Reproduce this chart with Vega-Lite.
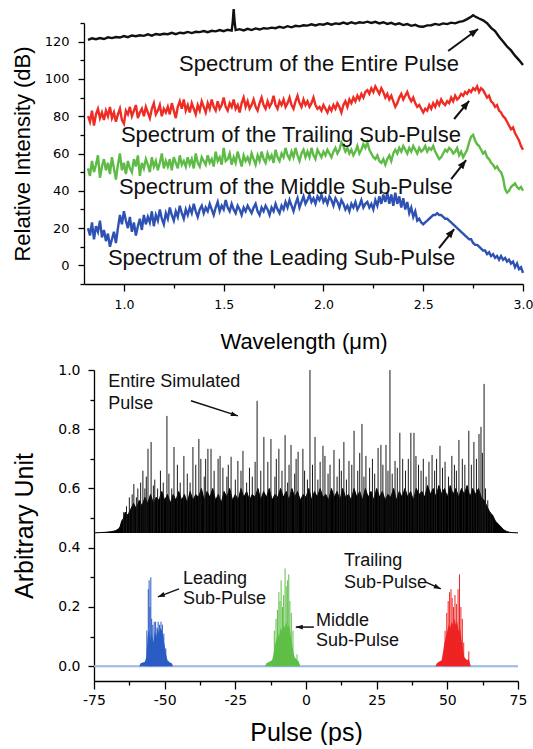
{
"$schema": "https://vega.github.io/schema/vega-lite/v6.json",
"background": "white",
"padding": {"left": 11, "top": 4, "right": 0, "bottom": 0},
"spacing": 10,
"config": {"view": {"stroke": null}, "axis": {"grid": false, "domainColor": "#000", "tickColor": "#000", "labelColor": "#000", "titleColor": "#000", "labelFont": "DejaVu Sans", "titleFont": "Liberation Sans", "titleFontWeight": "normal", "domainWidth": 1.3, "tickWidth": 1.3, "labelOverlap": false, "labelFlush": false, "tickCount": 200}},
"datasets": {
"black": [{"x":0.82,"y":121.0},{"x":0.84,"y":121.8},{"x":0.86,"y":121.3},{"x":0.88,"y":121.9},{"x":0.90,"y":121.4},{"x":0.92,"y":122.3},{"x":0.94,"y":121.9},{"x":0.96,"y":122.5},{"x":0.98,"y":122.2},{"x":1.00,"y":123.0},
{"x":1.02,"y":122.4},{"x":1.04,"y":123.3},{"x":1.06,"y":122.9},{"x":1.08,"y":123.4},{"x":1.10,"y":123.1},{"x":1.12,"y":123.9},{"x":1.14,"y":123.2},{"x":1.16,"y":124.1},{"x":1.18,"y":123.7},{"x":1.20,"y":124.2},
{"x":1.22,"y":124.0},{"x":1.24,"y":124.7},{"x":1.26,"y":124.0},{"x":1.28,"y":124.8},{"x":1.30,"y":124.5},{"x":1.32,"y":125.2},{"x":1.34,"y":124.6},{"x":1.36,"y":125.3},{"x":1.38,"y":125.1},{"x":1.40,"y":125.7},
{"x":1.42,"y":125.1},{"x":1.44,"y":125.8},{"x":1.46,"y":125.5},{"x":1.48,"y":126.2},{"x":1.50,"y":125.6},{"x":1.52,"y":126.4},{"x":1.54,"y":125.9},{"x":1.545,"y":130.0},{"x":1.55,"y":137.5},{"x":1.555,"y":130.5},{"x":1.56,"y":126.2},{"x":1.58,"y":126.7},{"x":1.60,"y":126.0},
{"x":1.62,"y":126.9},{"x":1.64,"y":126.2},{"x":1.66,"y":127.1},{"x":1.68,"y":126.5},{"x":1.70,"y":127.2},{"x":1.72,"y":127.0},{"x":1.74,"y":127.5},{"x":1.76,"y":127.2},{"x":1.78,"y":128.0},{"x":1.80,"y":127.4},
{"x":1.82,"y":128.3},{"x":1.84,"y":127.7},{"x":1.86,"y":128.5},{"x":1.88,"y":128.2},{"x":1.90,"y":128.8},{"x":1.92,"y":128.6},{"x":1.94,"y":129.3},{"x":1.96,"y":128.7},{"x":1.98,"y":129.4},{"x":2.00,"y":129.1},
{"x":2.02,"y":129.8},{"x":2.04,"y":129.1},{"x":2.06,"y":129.8},{"x":2.08,"y":129.5},{"x":2.10,"y":130.2},{"x":2.12,"y":129.5},{"x":2.14,"y":130.4},{"x":2.16,"y":129.7},{"x":2.18,"y":130.4},{"x":2.20,"y":130.1},
{"x":2.22,"y":130.7},{"x":2.24,"y":130.0},{"x":2.26,"y":130.6},{"x":2.28,"y":129.8},{"x":2.30,"y":130.4},{"x":2.32,"y":129.5},{"x":2.34,"y":130.1},{"x":2.36,"y":129.2},{"x":2.38,"y":129.8},{"x":2.40,"y":128.9},
{"x":2.42,"y":129.4},{"x":2.44,"y":128.5},{"x":2.46,"y":129.0},{"x":2.48,"y":128.1},{"x":2.50,"y":128.0},{"x":2.52,"y":128.7},{"x":2.54,"y":128.8},{"x":2.56,"y":129.5},{"x":2.58,"y":129.0},{"x":2.60,"y":129.8},
{"x":2.62,"y":129.4},{"x":2.64,"y":130.2},{"x":2.66,"y":129.8},{"x":2.68,"y":130.6},{"x":2.70,"y":131.0},{"x":2.72,"y":132.1},{"x":2.74,"y":133.4},{"x":2.75,"y":134.2},{"x":2.76,"y":133.5},{"x":2.78,"y":132.4},{"x":2.80,"y":131.4},
{"x":2.82,"y":129.9},{"x":2.84,"y":127.4},{"x":2.86,"y":125.7},{"x":2.88,"y":122.6},{"x":2.90,"y":120.1},{"x":2.92,"y":117.4},{"x":2.94,"y":115.3},{"x":2.96,"y":112.5},{"x":2.98,"y":110.1},{"x":3.00,"y":107.5}],
"red": [{"x":0.82,"y":80},{"x":0.83,"y":77},{"x":0.84,"y":83},{"x":0.85,"y":75},{"x":0.86,"y":81},{"x":0.87,"y":84},{"x":0.88,"y":79},{"x":0.89,"y":82},{"x":0.90,"y":78},{"x":0.91,"y":83},
{"x":0.92,"y":80},{"x":0.93,"y":85},{"x":0.94,"y":79},{"x":0.95,"y":82},{"x":0.96,"y":77},{"x":0.97,"y":81},{"x":0.98,"y":84},{"x":0.99,"y":78},{"x":1.00,"y":76},{"x":1.01,"y":83},
{"x":1.02,"y":81},{"x":1.03,"y":85},{"x":1.04,"y":80},{"x":1.05,"y":83},{"x":1.06,"y":86},{"x":1.07,"y":79},{"x":1.08,"y":82},{"x":1.09,"y":84},{"x":1.10,"y":80},{"x":1.11,"y":85},
{"x":1.12,"y":82},{"x":1.13,"y":79},{"x":1.14,"y":84},{"x":1.15,"y":87},{"x":1.16,"y":81},{"x":1.17,"y":83},{"x":1.18,"y":86},{"x":1.19,"y":80},{"x":1.20,"y":84},{"x":1.21,"y":82},
{"x":1.22,"y":85},{"x":1.23,"y":81},{"x":1.24,"y":87},{"x":1.25,"y":83},{"x":1.26,"y":79},{"x":1.27,"y":85},{"x":1.28,"y":88},{"x":1.29,"y":84},{"x":1.30,"y":89},{"x":1.31,"y":83},
{"x":1.32,"y":86},{"x":1.33,"y":82},{"x":1.34,"y":87},{"x":1.35,"y":84},{"x":1.36,"y":81},{"x":1.37,"y":86},{"x":1.38,"y":83},{"x":1.39,"y":88},{"x":1.40,"y":85},{"x":1.41,"y":82},
{"x":1.42,"y":87},{"x":1.43,"y":84},{"x":1.44,"y":89},{"x":1.45,"y":85},{"x":1.46,"y":83},{"x":1.47,"y":88},{"x":1.48,"y":84},{"x":1.49,"y":86},{"x":1.50,"y":90},{"x":1.51,"y":85},
{"x":1.52,"y":83},{"x":1.53,"y":87},{"x":1.54,"y":85},{"x":1.55,"y":89},{"x":1.56,"y":84},{"x":1.57,"y":86},{"x":1.58,"y":82},{"x":1.59,"y":87},{"x":1.60,"y":90},{"x":1.61,"y":85},
{"x":1.62,"y":88},{"x":1.63,"y":84},{"x":1.64,"y":86},{"x":1.65,"y":89},{"x":1.66,"y":85},{"x":1.67,"y":83},{"x":1.68,"y":87},{"x":1.69,"y":90},{"x":1.70,"y":86},{"x":1.71,"y":84},
{"x":1.72,"y":88},{"x":1.73,"y":85},{"x":1.74,"y":87},{"x":1.75,"y":91},{"x":1.76,"y":86},{"x":1.77,"y":84},{"x":1.78,"y":88},{"x":1.79,"y":86},{"x":1.80,"y":89},{"x":1.81,"y":85},
{"x":1.82,"y":87},{"x":1.83,"y":90},{"x":1.84,"y":86},{"x":1.85,"y":84},{"x":1.86,"y":88},{"x":1.87,"y":91},{"x":1.88,"y":87},{"x":1.89,"y":85},{"x":1.90,"y":89},{"x":1.91,"y":86},
{"x":1.92,"y":88},{"x":1.93,"y":85},{"x":1.94,"y":87},{"x":1.95,"y":90},{"x":1.96,"y":86},{"x":1.97,"y":84},{"x":1.98,"y":85},{"x":1.99,"y":83},{"x":2.00,"y":86},{"x":2.01,"y":84},
{"x":2.02,"y":82},{"x":2.03,"y":85},{"x":2.04,"y":83},{"x":2.05,"y":86},{"x":2.06,"y":84},{"x":2.07,"y":87},{"x":2.08,"y":85},{"x":2.09,"y":82},{"x":2.10,"y":86},{"x":2.11,"y":88},
{"x":2.12,"y":85},{"x":2.13,"y":89},{"x":2.14,"y":87},{"x":2.15,"y":90},{"x":2.16,"y":88},{"x":2.17,"y":91},{"x":2.18,"y":89},{"x":2.19,"y":92},{"x":2.20,"y":90},{"x":2.21,"y":93},
{"x":2.22,"y":94},{"x":2.23,"y":92},{"x":2.24,"y":95},{"x":2.25,"y":93},{"x":2.26,"y":96},{"x":2.27,"y":94},{"x":2.28,"y":92},{"x":2.29,"y":95},{"x":2.30,"y":93},{"x":2.31,"y":90},
{"x":2.32,"y":92},{"x":2.33,"y":89},{"x":2.34,"y":91},{"x":2.35,"y":88},{"x":2.36,"y":85},{"x":2.37,"y":87},{"x":2.38,"y":90},{"x":2.39,"y":92},{"x":2.40,"y":89},{"x":2.41,"y":91},
{"x":2.42,"y":93},{"x":2.43,"y":90},{"x":2.44,"y":88},{"x":2.45,"y":90},{"x":2.46,"y":87},{"x":2.47,"y":85},{"x":2.48,"y":86},{"x":2.49,"y":84},{"x":2.50,"y":82},{"x":2.51,"y":84},
{"x":2.52,"y":83},{"x":2.53,"y":86},{"x":2.54,"y":84},{"x":2.55,"y":87},{"x":2.56,"y":85},{"x":2.57,"y":88},{"x":2.58,"y":86},{"x":2.59,"y":89},{"x":2.60,"y":87},{"x":2.61,"y":86},
{"x":2.62,"y":88},{"x":2.63,"y":87},{"x":2.64,"y":90},{"x":2.65,"y":88},{"x":2.66,"y":91},{"x":2.67,"y":89},{"x":2.68,"y":90},{"x":2.69,"y":92},{"x":2.70,"y":91},{"x":2.71,"y":93},
{"x":2.72,"y":92},{"x":2.73,"y":94},{"x":2.74,"y":93},{"x":2.75,"y":95},{"x":2.76,"y":94},{"x":2.77,"y":96},{"x":2.78,"y":93},{"x":2.79,"y":95},{"x":2.80,"y":94},{"x":2.81,"y":92},
{"x":2.82,"y":90},{"x":2.83,"y":91},{"x":2.84,"y":88},{"x":2.85,"y":87},{"x":2.86,"y":85},{"x":2.87,"y":86},{"x":2.88,"y":83},{"x":2.89,"y":82},{"x":2.90,"y":80},{"x":2.91,"y":79},
{"x":2.92,"y":77},{"x":2.93,"y":75},{"x":2.94,"y":73},{"x":2.95,"y":74},{"x":2.96,"y":71},{"x":2.97,"y":69},{"x":2.98,"y":67},{"x":2.99,"y":64},{"x":3.00,"y":62}],
"green": [{"x":0.82,"y":52},{"x":0.83,"y":48},{"x":0.84,"y":56},{"x":0.85,"y":50},{"x":0.86,"y":54},{"x":0.87,"y":59},{"x":0.88,"y":47},{"x":0.89,"y":53},{"x":0.90,"y":57},{"x":0.91,"y":51},
{"x":0.92,"y":55},{"x":0.93,"y":49},{"x":0.94,"y":58},{"x":0.95,"y":52},{"x":0.96,"y":46},{"x":0.97,"y":54},{"x":0.98,"y":60},{"x":0.99,"y":51},{"x":1.00,"y":55},{"x":1.01,"y":49},
{"x":1.02,"y":56},{"x":1.03,"y":52},{"x":1.04,"y":50},{"x":1.05,"y":57},{"x":1.06,"y":53},{"x":1.07,"y":59},{"x":1.08,"y":48},{"x":1.09,"y":55},{"x":1.10,"y":52},{"x":1.11,"y":57},
{"x":1.12,"y":54},{"x":1.13,"y":50},{"x":1.14,"y":58},{"x":1.15,"y":53},{"x":1.16,"y":56},{"x":1.17,"y":51},{"x":1.18,"y":55},{"x":1.19,"y":60},{"x":1.20,"y":52},{"x":1.21,"y":56},
{"x":1.22,"y":53},{"x":1.23,"y":57},{"x":1.24,"y":51},{"x":1.25,"y":58},{"x":1.26,"y":55},{"x":1.27,"y":52},{"x":1.28,"y":59},{"x":1.29,"y":54},{"x":1.30,"y":56},{"x":1.31,"y":53},
{"x":1.32,"y":58},{"x":1.33,"y":54},{"x":1.34,"y":57},{"x":1.35,"y":52},{"x":1.36,"y":60},{"x":1.37,"y":55},{"x":1.38,"y":53},{"x":1.39,"y":58},{"x":1.40,"y":56},{"x":1.41,"y":54},
{"x":1.42,"y":59},{"x":1.43,"y":55},{"x":1.44,"y":57},{"x":1.45,"y":53},{"x":1.46,"y":61},{"x":1.47,"y":56},{"x":1.48,"y":58},{"x":1.49,"y":54},{"x":1.50,"y":63},{"x":1.51,"y":56},
{"x":1.52,"y":57},{"x":1.53,"y":60},{"x":1.54,"y":54},{"x":1.55,"y":58},{"x":1.56,"y":55},{"x":1.57,"y":61},{"x":1.58,"y":57},{"x":1.59,"y":53},{"x":1.60,"y":59},{"x":1.61,"y":56},
{"x":1.62,"y":58},{"x":1.63,"y":55},{"x":1.64,"y":60},{"x":1.65,"y":57},{"x":1.66,"y":54},{"x":1.67,"y":59},{"x":1.68,"y":56},{"x":1.69,"y":61},{"x":1.70,"y":57},{"x":1.71,"y":55},
{"x":1.72,"y":60},{"x":1.73,"y":57},{"x":1.74,"y":59},{"x":1.75,"y":55},{"x":1.76,"y":62},{"x":1.77,"y":58},{"x":1.78,"y":56},{"x":1.79,"y":60},{"x":1.80,"y":58},{"x":1.81,"y":63},
{"x":1.82,"y":59},{"x":1.83,"y":57},{"x":1.84,"y":61},{"x":1.85,"y":58},{"x":1.86,"y":63},{"x":1.87,"y":59},{"x":1.88,"y":56},{"x":1.89,"y":60},{"x":1.90,"y":62},{"x":1.91,"y":58},
{"x":1.92,"y":61},{"x":1.93,"y":58},{"x":1.94,"y":63},{"x":1.95,"y":59},{"x":1.96,"y":57},{"x":1.97,"y":62},{"x":1.98,"y":60},{"x":1.99,"y":58},{"x":2.00,"y":61},{"x":2.01,"y":59},
{"x":2.02,"y":62},{"x":2.03,"y":60},{"x":2.04,"y":58},{"x":2.05,"y":61},{"x":2.06,"y":63},{"x":2.07,"y":60},{"x":2.08,"y":62},{"x":2.09,"y":66},{"x":2.10,"y":64},{"x":2.11,"y":61},
{"x":2.12,"y":63},{"x":2.13,"y":60},{"x":2.14,"y":62},{"x":2.15,"y":59},{"x":2.16,"y":61},{"x":2.17,"y":64},{"x":2.18,"y":60},{"x":2.19,"y":62},{"x":2.20,"y":65},{"x":2.21,"y":63},
{"x":2.22,"y":66},{"x":2.23,"y":62},{"x":2.24,"y":60},{"x":2.25,"y":58},{"x":2.26,"y":57},{"x":2.27,"y":59},{"x":2.28,"y":56},{"x":2.29,"y":55},{"x":2.30,"y":57},{"x":2.31,"y":54},
{"x":2.32,"y":57},{"x":2.33,"y":59},{"x":2.34,"y":56},{"x":2.35,"y":60},{"x":2.36,"y":62},{"x":2.37,"y":60},{"x":2.38,"y":63},{"x":2.39,"y":61},{"x":2.40,"y":64},{"x":2.41,"y":62},
{"x":2.42,"y":60},{"x":2.43,"y":63},{"x":2.44,"y":61},{"x":2.45,"y":64},{"x":2.46,"y":62},{"x":2.47,"y":60},{"x":2.48,"y":63},{"x":2.49,"y":61},{"x":2.50,"y":62},{"x":2.51,"y":64},
{"x":2.52,"y":61},{"x":2.53,"y":63},{"x":2.54,"y":62},{"x":2.55,"y":64},{"x":2.56,"y":61},{"x":2.57,"y":59},{"x":2.58,"y":57},{"x":2.59,"y":58},{"x":2.60,"y":60},{"x":2.61,"y":62},
{"x":2.62,"y":61},{"x":2.63,"y":63},{"x":2.64,"y":62},{"x":2.65,"y":60},{"x":2.66,"y":61},{"x":2.67,"y":63},{"x":2.68,"y":59},{"x":2.69,"y":61},{"x":2.70,"y":58},{"x":2.71,"y":60},
{"x":2.72,"y":62},{"x":2.73,"y":66},{"x":2.74,"y":69},{"x":2.75,"y":70},{"x":2.76,"y":67},{"x":2.77,"y":65},{"x":2.78,"y":64},{"x":2.79,"y":62},{"x":2.80,"y":60},{"x":2.81,"y":61},
{"x":2.82,"y":58},{"x":2.83,"y":57},{"x":2.84,"y":55},{"x":2.85,"y":54},{"x":2.86,"y":52},{"x":2.87,"y":53},{"x":2.88,"y":51},{"x":2.89,"y":50},{"x":2.90,"y":47},{"x":2.91,"y":41},
{"x":2.92,"y":39},{"x":2.93,"y":40},{"x":2.94,"y":42},{"x":2.95,"y":43},{"x":2.96,"y":44},{"x":2.97,"y":42},{"x":2.98,"y":41},{"x":2.99,"y":42},{"x":3.00,"y":40}],
"blue": [{"x":0.82,"y":20},{"x":0.83,"y":16},{"x":0.84,"y":23},{"x":0.85,"y":14},{"x":0.86,"y":21},{"x":0.87,"y":18},{"x":0.88,"y":24},{"x":0.89,"y":15},{"x":0.90,"y":19},{"x":0.91,"y":13},
{"x":0.92,"y":17},{"x":0.93,"y":10},{"x":0.94,"y":14},{"x":0.95,"y":18},{"x":0.96,"y":12},{"x":0.97,"y":20},{"x":0.98,"y":27},{"x":0.99,"y":22},{"x":1.00,"y":29},{"x":1.01,"y":24},
{"x":1.02,"y":20},{"x":1.03,"y":26},{"x":1.04,"y":18},{"x":1.05,"y":23},{"x":1.06,"y":16},{"x":1.07,"y":21},{"x":1.08,"y":25},{"x":1.09,"y":19},{"x":1.10,"y":27},{"x":1.11,"y":22},
{"x":1.12,"y":26},{"x":1.13,"y":23},{"x":1.14,"y":29},{"x":1.15,"y":21},{"x":1.16,"y":27},{"x":1.17,"y":24},{"x":1.18,"y":30},{"x":1.19,"y":25},{"x":1.20,"y":22},{"x":1.21,"y":28},
{"x":1.22,"y":25},{"x":1.23,"y":31},{"x":1.24,"y":27},{"x":1.25,"y":24},{"x":1.26,"y":29},{"x":1.27,"y":26},{"x":1.28,"y":32},{"x":1.29,"y":28},{"x":1.30,"y":25},{"x":1.31,"y":30},
{"x":1.32,"y":27},{"x":1.33,"y":31},{"x":1.34,"y":28},{"x":1.35,"y":33},{"x":1.36,"y":29},{"x":1.37,"y":26},{"x":1.38,"y":30},{"x":1.39,"y":32},{"x":1.40,"y":28},{"x":1.41,"y":31},
{"x":1.42,"y":29},{"x":1.43,"y":33},{"x":1.44,"y":30},{"x":1.45,"y":27},{"x":1.46,"y":31},{"x":1.47,"y":34},{"x":1.48,"y":29},{"x":1.49,"y":32},{"x":1.50,"y":30},{"x":1.51,"y":35},
{"x":1.52,"y":31},{"x":1.53,"y":29},{"x":1.54,"y":33},{"x":1.55,"y":30},{"x":1.56,"y":28},{"x":1.57,"y":32},{"x":1.58,"y":30},{"x":1.59,"y":27},{"x":1.60,"y":31},{"x":1.61,"y":29},
{"x":1.62,"y":32},{"x":1.63,"y":30},{"x":1.64,"y":28},{"x":1.65,"y":31},{"x":1.66,"y":33},{"x":1.67,"y":29},{"x":1.68,"y":27},{"x":1.69,"y":31},{"x":1.70,"y":29},{"x":1.71,"y":32},
{"x":1.72,"y":30},{"x":1.73,"y":27},{"x":1.74,"y":31},{"x":1.75,"y":29},{"x":1.76,"y":33},{"x":1.77,"y":30},{"x":1.78,"y":28},{"x":1.79,"y":32},{"x":1.80,"y":30},{"x":1.81,"y":34},
{"x":1.82,"y":31},{"x":1.83,"y":35},{"x":1.84,"y":32},{"x":1.85,"y":29},{"x":1.86,"y":33},{"x":1.87,"y":36},{"x":1.88,"y":31},{"x":1.89,"y":34},{"x":1.90,"y":37},{"x":1.91,"y":33},
{"x":1.92,"y":35},{"x":1.93,"y":38},{"x":1.94,"y":34},{"x":1.95,"y":36},{"x":1.96,"y":33},{"x":1.97,"y":37},{"x":1.98,"y":35},{"x":1.99,"y":38},{"x":2.00,"y":34},{"x":2.01,"y":36},
{"x":2.02,"y":33},{"x":2.03,"y":37},{"x":2.04,"y":35},{"x":2.05,"y":32},{"x":2.06,"y":36},{"x":2.07,"y":34},{"x":2.08,"y":31},{"x":2.09,"y":35},{"x":2.10,"y":33},{"x":2.11,"y":30},
{"x":2.12,"y":32},{"x":2.13,"y":29},{"x":2.14,"y":33},{"x":2.15,"y":31},{"x":2.16,"y":34},{"x":2.17,"y":30},{"x":2.18,"y":32},{"x":2.19,"y":35},{"x":2.20,"y":31},{"x":2.21,"y":33},
{"x":2.22,"y":34},{"x":2.23,"y":31},{"x":2.24,"y":33},{"x":2.25,"y":30},{"x":2.26,"y":35},{"x":2.27,"y":32},{"x":2.28,"y":37},{"x":2.29,"y":33},{"x":2.30,"y":38},{"x":2.31,"y":34},
{"x":2.32,"y":39},{"x":2.33,"y":33},{"x":2.34,"y":38},{"x":2.35,"y":32},{"x":2.36,"y":39},{"x":2.37,"y":33},{"x":2.38,"y":37},{"x":2.39,"y":31},{"x":2.40,"y":36},{"x":2.41,"y":30},
{"x":2.42,"y":34},{"x":2.43,"y":28},{"x":2.44,"y":31},{"x":2.45,"y":26},{"x":2.46,"y":29},{"x":2.47,"y":24},{"x":2.48,"y":25},{"x":2.49,"y":23},{"x":2.50,"y":22},{"x":2.51,"y":23},
{"x":2.52,"y":24},{"x":2.53,"y":25},{"x":2.54,"y":26},{"x":2.55,"y":27},{"x":2.56,"y":27},{"x":2.57,"y":28},{"x":2.58,"y":27},{"x":2.59,"y":27},{"x":2.60,"y":26},{"x":2.61,"y":25},
{"x":2.62,"y":25},{"x":2.63,"y":24},{"x":2.64,"y":23},{"x":2.65,"y":22},{"x":2.66,"y":21},{"x":2.67,"y":20},{"x":2.68,"y":19},{"x":2.69,"y":18},{"x":2.70,"y":17},{"x":2.71,"y":16},
{"x":2.72,"y":15},{"x":2.73,"y":14},{"x":2.74,"y":14},{"x":2.75,"y":12},{"x":2.76,"y":11},{"x":2.77,"y":11},{"x":2.78,"y":10},{"x":2.79,"y":9},{"x":2.80,"y":8},{"x":2.81,"y":8},
{"x":2.82,"y":6},{"x":2.83,"y":7},{"x":2.84,"y":5},{"x":2.85,"y":6},{"x":2.86,"y":4},{"x":2.87,"y":5},{"x":2.88,"y":3},{"x":2.89,"y":5},{"x":2.90,"y":3},{"x":2.91,"y":4},
{"x":2.92,"y":2},{"x":2.93,"y":3},{"x":2.94,"y":1},{"x":2.95,"y":2},{"x":2.96,"y":-1},{"x":2.97,"y":1},{"x":2.98,"y":-2},{"x":2.99,"y":-1},{"x":3.00,"y":-4}],
"topText": [{"x":1.276,"y":104.2,"t":"Spectrum of the Entire Pulse"},{"x":0.985,"y":66.2,"t":"Spectrum of the Trailing Sub-Pulse"},{"x":0.975,"y":38.3,"t":"Spectrum of the Middle Sub-Pulse"},{"x":0.92,"y":0.2,"t":"Spectrum of the Leading Sub-Pulse"}],
"topArrows": [{"id":"E","x":2.625,"y":115.0,"x2":2.775,"y2":126.8},{"id":"T","x":2.655,"y":78.5,"x2":2.730,"y2":88.2},{"id":"M","x":2.640,"y":46.3,"x2":2.715,"y2":56.5},{"id":"L","x":2.579,"y":9.3,"x2":2.655,"y2":19.5}],
"baseline": [{"x":-75,"y":0},{"x":75,"y":0}],
"env": [{"x":-75,"y":0.450},{"x":-73,"y":0.451},{"x":-71,"y":0.452},{"x":-69,"y":0.454},{"x":-67.5,"y":0.457},{"x":-66.5,"y":0.462},{"x":-65.8,"y":0.47},{"x":-65.2,"y":0.49},{"x":-64.5,"y":0.50},{"x":-64,"y":0.52},{"x":-63,"y":0.51},{"x":-62,"y":0.53},{"x":-61,"y":0.55},{"x":-60,"y":0.53},{"x":-59,"y":0.56},{"x":-58,"y":0.54},{"x":-57,"y":0.57},{"x":-56,"y":0.55},{"x":-55,"y":0.58},{"x":-54,"y":0.55},{"x":-53,"y":0.57},{"x":-52,"y":0.56},{"x":-51,"y":0.59},{"x":-50,"y":0.56},{"x":-49,"y":0.58},{"x":-48,"y":0.55},{"x":-47,"y":0.58},{"x":-46,"y":0.56},{"x":-45,"y":0.59},{"x":-44,"y":0.56},{"x":-43,"y":0.58},{"x":-42,"y":0.55},{"x":-41,"y":0.59},{"x":-40,"y":0.56},{"x":-39,"y":0.58},{"x":-38,"y":0.57},{"x":-37,"y":0.6},{"x":-36,"y":0.56},{"x":-35,"y":0.59},{"x":-34,"y":0.57},{"x":-33,"y":0.6},{"x":-32,"y":0.56},{"x":-31,"y":0.58},{"x":-30,"y":0.55},{"x":-29,"y":0.59},{"x":-28,"y":0.57},{"x":-27,"y":0.6},{"x":-26,"y":0.56},{"x":-25,"y":0.58},{"x":-24,"y":0.56},{"x":-23,"y":0.6},{"x":-22,"y":0.57},{"x":-21,"y":0.59},{"x":-20,"y":0.56},{"x":-19,"y":0.58},{"x":-18,"y":0.57},{"x":-17,"y":0.6},{"x":-16,"y":0.56},{"x":-15,"y":0.59},{"x":-14,"y":0.57},{"x":-13,"y":0.6},{"x":-12,"y":0.56},{"x":-11,"y":0.58},{"x":-10,"y":0.57},{"x":-9,"y":0.6},{"x":-8,"y":0.57},{"x":-7,"y":0.59},{"x":-6,"y":0.56},{"x":-5,"y":0.6},{"x":-4,"y":0.57},{"x":-3,"y":0.59},{"x":-2,"y":0.56},{"x":-1,"y":0.58},{"x":0,"y":0.57},{"x":1,"y":0.6},{"x":2,"y":0.56},{"x":3,"y":0.59},{"x":4,"y":0.57},{"x":5,"y":0.6},{"x":6,"y":0.57},{"x":7,"y":0.58},{"x":8,"y":0.56},{"x":9,"y":0.6},{"x":10,"y":0.57},{"x":11,"y":0.59},{"x":12,"y":0.56},{"x":13,"y":0.6},{"x":14,"y":0.57},{"x":15,"y":0.58},{"x":16,"y":0.56},{"x":17,"y":0.6},{"x":18,"y":0.57},{"x":19,"y":0.59},{"x":20,"y":0.56},{"x":21,"y":0.6},{"x":22,"y":0.57},{"x":23,"y":0.59},{"x":24,"y":0.56},{"x":25,"y":0.6},{"x":26,"y":0.57},{"x":27,"y":0.59},{"x":28,"y":0.56},{"x":29,"y":0.58},{"x":30,"y":0.57},{"x":31,"y":0.6},{"x":32,"y":0.56},{"x":33,"y":0.59},{"x":34,"y":0.57},{"x":35,"y":0.6},{"x":36,"y":0.57},{"x":37,"y":0.59},{"x":38,"y":0.56},{"x":39,"y":0.6},{"x":40,"y":0.58},{"x":41,"y":0.59},{"x":42,"y":0.57},{"x":43,"y":0.61},{"x":44,"y":0.58},{"x":45,"y":0.6},{"x":46,"y":0.57},{"x":47,"y":0.61},{"x":48,"y":0.58},{"x":49,"y":0.6},{"x":50,"y":0.57},{"x":51,"y":0.61},{"x":52,"y":0.58},{"x":53,"y":0.6},{"x":54,"y":0.57},{"x":55,"y":0.6},{"x":56,"y":0.58},{"x":57,"y":0.61},{"x":58,"y":0.57},{"x":59,"y":0.6},{"x":60,"y":0.58},{"x":61,"y":0.6},{"x":62,"y":0.57},{"x":63,"y":0.56},{"x":64,"y":0.54},{"x":65,"y":0.52},{"x":66,"y":0.51},{"x":67,"y":0.49},{"x":68,"y":0.48},{"x":69,"y":0.47},{"x":70,"y":0.46},{"x":71,"y":0.455},{"x":72,"y":0.452},{"x":73,"y":0.451},{"x":75,"y":0.450}],
"spikes": [{"x":-64.5,"y":0.52},{"x":-63.5,"y":0.54},{"x":-62.5,"y":0.57},{"x":-61.5,"y":0.58},{"x":-60.9,"y":0.615},{"x":-60.0,"y":0.57},{"x":-59.5,"y":0.6},{"x":-58.5,"y":0.62},{"x":-57.7,"y":0.66},{"x":-57.0,"y":0.6},{"x":-56.5,"y":0.64},{"x":-55.9,"y":0.734},{"x":-54.8,"y":0.757},{"x":-54.0,"y":0.61},{"x":-53.5,"y":0.63},{"x":-52.5,"y":0.6},{"x":-51.5,"y":0.66},{"x":-50.5,"y":0.62},{"x":-49.2,"y":0.845},{"x":-48.5,"y":0.65},{"x":-47.5,"y":0.6},{"x":-46.7,"y":0.74},{"x":-45.5,"y":0.68},{"x":-44.5,"y":0.62},{"x":-43.2,"y":0.71},{"x":-42.0,"y":0.65},{"x":-41.0,"y":0.62},{"x":-40.0,"y":0.74},{"x":-39.0,"y":0.68},{"x":-37.9,"y":0.767},{"x":-37.2,"y":0.70},{"x":-36.0,"y":0.64},{"x":-35.5,"y":0.7},{"x":-34.7,"y":0.734},{"x":-33.6,"y":0.734},{"x":-32.5,"y":0.66},{"x":-31.1,"y":0.70},{"x":-30.4,"y":0.71},{"x":-29.4,"y":0.67},{"x":-28.0,"y":0.64},{"x":-27.5,"y":0.68},{"x":-26.5,"y":0.707},{"x":-25.0,"y":0.63},{"x":-24.1,"y":0.693},{"x":-23.0,"y":0.66},{"x":-22.3,"y":0.727},{"x":-21.0,"y":0.62},{"x":-20.0,"y":0.67},{"x":-19.0,"y":0.64},{"x":-18.0,"y":0.69},{"x":-17.3,"y":0.896},{"x":-16.0,"y":0.66},{"x":-14.9,"y":0.774},{"x":-13.5,"y":0.69},{"x":-12.4,"y":0.767},{"x":-11.0,"y":0.64},{"x":-10.5,"y":0.7},{"x":-9.6,"y":0.734},{"x":-8.5,"y":0.66},{"x":-7.4,"y":0.78},{"x":-6.5,"y":0.62},{"x":-6.0,"y":0.68},{"x":-5.3,"y":0.747},{"x":-4.0,"y":0.65},{"x":-3.5,"y":0.7},{"x":-2.8,"y":0.724},{"x":-1.1,"y":0.734},{"x":-0.5,"y":0.66},{"x":0.5,"y":0.63},{"x":1.4,"y":1.0},{"x":2.3,"y":0.68},{"x":3.2,"y":0.774},{"x":4.2,"y":0.63},{"x":5.0,"y":0.69},{"x":6.0,"y":0.744},{"x":6.7,"y":0.71},{"x":7.8,"y":0.65},{"x":8.5,"y":0.68},{"x":9.9,"y":0.73},{"x":11.0,"y":0.64},{"x":11.8,"y":0.7},{"x":12.5,"y":0.66},{"x":13.4,"y":0.757},{"x":14.3,"y":0.63},{"x":15.2,"y":0.693},{"x":16.2,"y":0.68},{"x":17.0,"y":0.795},{"x":18.3,"y":0.66},{"x":19.0,"y":0.72},{"x":19.8,"y":0.818},{"x":20.5,"y":0.64},{"x":21.2,"y":0.71},{"x":22.5,"y":0.67},{"x":23.5,"y":0.7},{"x":24.3,"y":0.65},{"x":25.5,"y":0.737},{"x":26.5,"y":0.747},{"x":27.2,"y":0.68},{"x":28.3,"y":0.747},{"x":29.0,"y":0.66},{"x":29.7,"y":1.0},{"x":30.5,"y":0.65},{"x":31.5,"y":0.693},{"x":32.3,"y":0.67},{"x":33.2,"y":0.788},{"x":34.2,"y":0.7},{"x":35.2,"y":0.66},{"x":36.2,"y":0.7},{"x":37.1,"y":0.788},{"x":38.2,"y":0.788},{"x":38.9,"y":0.71},{"x":39.8,"y":0.68},{"x":40.7,"y":0.66},{"x":41.5,"y":0.7},{"x":42.5,"y":0.64},{"x":43.5,"y":0.69},{"x":44.6,"y":0.713},{"x":45.5,"y":0.66},{"x":46.2,"y":0.7},{"x":47.4,"y":0.744},{"x":48.3,"y":0.67},{"x":49.2,"y":0.69},{"x":50.4,"y":0.64},{"x":51.6,"y":0.71},{"x":52.5,"y":0.68},{"x":53.2,"y":0.66},{"x":54.1,"y":0.764},{"x":55.3,"y":0.7},{"x":56.2,"y":0.68},{"x":57.6,"y":0.795},{"x":58.5,"y":0.68},{"x":59.4,"y":0.757},{"x":60.3,"y":0.7},{"x":61.2,"y":0.784},{"x":61.9,"y":0.808},{"x":62.4,"y":0.72},{"x":63.0,"y":0.953},{"x":63.5,"y":0.6},{"x":64.3,"y":0.56},{"x":65.2,"y":0.52},{"x":66.0,"y":0.5}],
"subEnv": [{"s":"L","x":-59,"y":0},{"s":"L","x":-58.5,"y":0.01},{"s":"L","x":-58,"y":0.012},{"s":"L","x":-57,"y":0.015},{"s":"L","x":-56.5,"y":0.03},{"s":"L","x":-56.2,"y":0.07},{"s":"L","x":-56,"y":0.10},{"s":"L","x":-55.5,"y":0.12},{"s":"L","x":-55,"y":0.09},{"s":"L","x":-54.5,"y":0.11},{"s":"L","x":-54,"y":0.08},{"s":"L","x":-53.5,"y":0.12},{"s":"L","x":-53,"y":0.10},{"s":"L","x":-52.5,"y":0.13},{"s":"L","x":-52,"y":0.11},{"s":"L","x":-51.5,"y":0.13},{"s":"L","x":-51,"y":0.12},{"s":"L","x":-50.5,"y":0.10},{"s":"L","x":-50,"y":0.07},{"s":"L","x":-49.5,"y":0.04},{"s":"L","x":-49,"y":0.02},{"s":"L","x":-48,"y":0.012},{"s":"L","x":-47.5,"y":0.01},{"s":"L","x":-47,"y":0},
{"s":"M","x":-14.5,"y":0},{"s":"M","x":-14,"y":0.01},{"s":"M","x":-13,"y":0.015},{"s":"M","x":-12,"y":0.02},{"s":"M","x":-11.5,"y":0.04},{"s":"M","x":-11,"y":0.07},{"s":"M","x":-10.5,"y":0.09},{"s":"M","x":-10,"y":0.11},{"s":"M","x":-9.5,"y":0.10},{"s":"M","x":-9,"y":0.13},{"s":"M","x":-8.5,"y":0.12},{"s":"M","x":-8,"y":0.14},{"s":"M","x":-7.5,"y":0.13},{"s":"M","x":-7,"y":0.15},{"s":"M","x":-6.5,"y":0.13},{"s":"M","x":-6,"y":0.14},{"s":"M","x":-5.5,"y":0.11},{"s":"M","x":-5,"y":0.08},{"s":"M","x":-4.5,"y":0.05},{"s":"M","x":-4,"y":0.03},{"s":"M","x":-3,"y":0.02},{"s":"M","x":-2.5,"y":0.015},{"s":"M","x":-2,"y":0},
{"s":"T","x":45.8,"y":0},{"s":"T","x":46.3,"y":0.01},{"s":"T","x":47,"y":0.015},{"s":"T","x":48,"y":0.02},{"s":"T","x":48.5,"y":0.05},{"s":"T","x":49,"y":0.08},{"s":"T","x":49.5,"y":0.10},{"s":"T","x":50,"y":0.12},{"s":"T","x":50.5,"y":0.14},{"s":"T","x":51,"y":0.13},{"s":"T","x":51.5,"y":0.15},{"s":"T","x":52,"y":0.14},{"s":"T","x":52.5,"y":0.16},{"s":"T","x":53,"y":0.14},{"s":"T","x":53.5,"y":0.15},{"s":"T","x":54,"y":0.12},{"s":"T","x":54.5,"y":0.13},{"s":"T","x":55,"y":0.09},{"s":"T","x":55.5,"y":0.06},{"s":"T","x":56,"y":0.03},{"s":"T","x":57,"y":0.02},{"s":"T","x":57.5,"y":0.025},{"s":"T","x":58,"y":0.01},{"s":"T","x":58.3,"y":0}],
"subSpikes": [{"s":"L","x":-56.3,"y":0.12},{"s":"L","x":-55.8,"y":0.26},{"s":"L","x":-55.5,"y":0.29},{"s":"L","x":-55.2,"y":0.20},{"s":"L","x":-54.9,"y":0.30},{"s":"L","x":-54.6,"y":0.16},{"s":"L","x":-54.2,"y":0.14},{"s":"L","x":-53.7,"y":0.15},{"s":"L","x":-53.2,"y":0.15},{"s":"L","x":-52.7,"y":0.13},{"s":"L","x":-52.3,"y":0.15},{"s":"L","x":-51.8,"y":0.14},{"s":"L","x":-51.3,"y":0.15},{"s":"L","x":-50.8,"y":0.14},{"s":"L","x":-50.3,"y":0.11},{"s":"L","x":-49.6,"y":0.06},
{"s":"M","x":-11.2,"y":0.12},{"s":"M","x":-10.6,"y":0.16},{"s":"M","x":-10.1,"y":0.19},{"s":"M","x":-9.6,"y":0.25},{"s":"M","x":-9.2,"y":0.22},{"s":"M","x":-8.8,"y":0.29},{"s":"M","x":-8.3,"y":0.2},{"s":"M","x":-7.9,"y":0.24},{"s":"M","x":-7.4,"y":0.33},{"s":"M","x":-7.0,"y":0.27},{"s":"M","x":-6.5,"y":0.29},{"s":"M","x":-6.1,"y":0.31},{"s":"M","x":-5.7,"y":0.22},{"s":"M","x":-5.2,"y":0.18},{"s":"M","x":-4.6,"y":0.12},{"s":"M","x":-3.2,"y":0.04},
{"s":"T","x":49.2,"y":0.12},{"s":"T","x":49.8,"y":0.18},{"s":"T","x":50.3,"y":0.22},{"s":"T","x":50.8,"y":0.25},{"s":"T","x":51.3,"y":0.26},{"s":"T","x":51.7,"y":0.23},{"s":"T","x":52.2,"y":0.2},{"s":"T","x":52.7,"y":0.24},{"s":"T","x":53.2,"y":0.21},{"s":"T","x":53.8,"y":0.26},{"s":"T","x":54.3,"y":0.31},{"s":"T","x":54.8,"y":0.2},{"s":"T","x":55.3,"y":0.16},{"s":"T","x":55.8,"y":0.08},{"s":"T","x":57.6,"y":0.05}],
"botText": [{"x":-70.0,"y":0.943,"t":"Entire Simulated"},{"x":-70.0,"y":0.869,"t":"Pulse"},{"x":-43.5,"y":0.278,"t":"Leading"},{"x":-43.5,"y":0.210,"t":"Sub-Pulse"},{"x":3.5,"y":0.136,"t":"Middle"},{"x":3.5,"y":0.068,"t":"Sub-Pulse"},{"x":13.4,"y":0.338,"t":"Trailing"},{"x":13.4,"y":0.264,"t":"Sub-Pulse"}],
"botArrows": [{"id":"E","x":-40.7,"y":0.896,"x2":-24.1,"y2":0.845},{"id":"L","x":-44.9,"y":0.261,"x2":-52.4,"y2":0.234},{"id":"M","x":2.8,"y":0.132,"x2":-3.6,"y2":0.132},{"id":"T","x":42.4,"y":0.284,"x2":47.7,"y2":0.261}]
},
"vconcat": [
{
"width": 439, "height": 261,
"layer": [
{"data": {"name": "black"}, "mark": {"type": "line", "color": "#111111", "strokeWidth": 2.4},
 "encoding": {
  "x": {"field": "x", "type": "quantitative", "scale": {"domain": [0.8, 3.0], "nice": false, "zero": false},
   "axis": {"values": [1.0,1.25,1.5,1.75,2.0,2.25,2.5,2.75,3.0], "tickCount": 200, "labelExpr": "(datum.value*2) % 1 == 0 ? format(datum.value, '.1f') : ''", "tickSize": {"condition": {"test": "(datum.value*2) % 1 != 0", "value": 4}, "value": 7}, "labelPadding": 7, "labelFontSize": 12.5, "title": "Wavelength (μm)", "titleFontSize": 22, "titlePadding": 21}},
  "y": {"field": "y", "type": "quantitative", "scale": {"domain": [-10, 130], "nice": false, "zero": false},
   "axis": {"values": [-10,0,10,20,30,40,50,60,70,80,90,100,110,120,130], "tickCount": 200, "labelExpr": "datum.value % 20 == 0 ? '' + datum.value : ''", "tickSize": {"condition": {"test": "datum.value % 20 != 0", "value": 4}, "value": 6}, "labelPadding": 9, "labelFontSize": 13, "title": "Relative Intensity (dB)", "titleFontSize": 22, "titlePadding": 10}}
 }},
{"data": {"name": "red"}, "mark": {"type": "line", "color": "#ee2c24", "strokeWidth": 2.4}, "encoding": {"x": {"field": "x", "type": "quantitative"}, "y": {"field": "y", "type": "quantitative"}}},
{"data": {"name": "green"}, "mark": {"type": "line", "color": "#5dbb46", "strokeWidth": 2.4}, "encoding": {"x": {"field": "x", "type": "quantitative"}, "y": {"field": "y", "type": "quantitative"}}},
{"data": {"name": "blue"}, "mark": {"type": "line", "color": "#2e52b4", "strokeWidth": 2.4}, "encoding": {"x": {"field": "x", "type": "quantitative"}, "y": {"field": "y", "type": "quantitative"}}},
{"data": {"name": "topText"}, "mark": {"type": "text", "align": "left", "baseline": "alphabetic", "font": "Liberation Sans", "fontSize": 22, "color": "#111111"}, "encoding": {"x": {"field": "x", "type": "quantitative"}, "y": {"field": "y", "type": "quantitative"}, "text": {"field": "t"}}},
{"data": {"name": "topArrows"}, "mark": {"type": "rule", "color": "#111111", "strokeWidth": 2}, "encoding": {"x": {"field": "x", "type": "quantitative"}, "y": {"field": "y", "type": "quantitative"}, "x2": {"field": "x2"}, "y2": {"field": "y2"}}},
{"data": {"name": "topArrows"}, "transform": [{"filter": "datum.id == 'E'"}], "mark": {"type": "point", "shape": "M0,0L-0.4,1L0.4,1Z", "filled": true, "size": 324, "angle": 54, "color": "#111111", "opacity": 1, "strokeWidth": 0}, "encoding": {"x": {"field": "x2", "type": "quantitative"}, "y": {"field": "y2", "type": "quantitative"}}},
{"data": {"name": "topArrows"}, "transform": [{"filter": "datum.id == 'T'"}], "mark": {"type": "point", "shape": "M0,0L-0.4,1L0.4,1Z", "filled": true, "size": 324, "angle": 40, "color": "#111111", "opacity": 1, "strokeWidth": 0}, "encoding": {"x": {"field": "x2", "type": "quantitative"}, "y": {"field": "y2", "type": "quantitative"}}},
{"data": {"name": "topArrows"}, "transform": [{"filter": "datum.id == 'M'"}], "mark": {"type": "point", "shape": "M0,0L-0.4,1L0.4,1Z", "filled": true, "size": 324, "angle": 38, "color": "#111111", "opacity": 1, "strokeWidth": 0}, "encoding": {"x": {"field": "x2", "type": "quantitative"}, "y": {"field": "y2", "type": "quantitative"}}},
{"data": {"name": "topArrows"}, "transform": [{"filter": "datum.id == 'L'"}], "mark": {"type": "point", "shape": "M0,0L-0.4,1L0.4,1Z", "filled": true, "size": 324, "angle": 39, "color": "#111111", "opacity": 1, "strokeWidth": 0}, "encoding": {"x": {"field": "x2", "type": "quantitative"}, "y": {"field": "y2", "type": "quantitative"}}}
]
},
{
"width": 434, "height": 311,
"layer": [
{"data": {"name": "baseline"}, "mark": {"type": "line", "color": "#9db6e6", "strokeWidth": 2},
 "encoding": {
  "x": {"field": "x", "type": "quantitative", "scale": {"domain": [-75, 75], "range": [10, 434], "nice": false, "zero": false},
   "axis": {"values": [-75,-62.5,-50,-37.5,-25,-12.5,0,12.5,25,37.5,50,62.5,75], "tickCount": 200, "labelExpr": "datum.value % 25 == 0 ? '' + datum.value : ''", "tickSize": {"condition": {"test": "datum.value % 25 != 0", "value": 4}, "value": 8}, "labelPadding": 4, "labelFontSize": 14, "title": "Pulse (ps)", "titleFontSize": 25, "titlePadding": 13}},
  "y": {"field": "y", "type": "quantitative", "scale": {"domain": [-0.05, 1.0], "nice": false, "zero": false},
   "axis": {"values": [0,0.1,0.2,0.3,0.4,0.5,0.6,0.7,0.8,0.9,1.0], "tickCount": 200, "offset": -10, "labelExpr": "round(datum.value*10) % 2 == 0 ? format(datum.value, '.1f') : ''", "tickSize": {"condition": {"test": "round(datum.value*10) % 2 != 0", "value": 4}, "value": 6}, "labelPadding": 8, "labelFontSize": 14, "title": "Arbitrary Unit", "titleFontSize": 25, "titlePadding": 20}}
 }},
{"data": {"name": "env"}, "mark": {"type": "area", "color": "#000000"}, "encoding": {"x": {"field": "x", "type": "quantitative"}, "y": {"field": "y", "type": "quantitative"}, "y2": {"datum": 0.45}}},
{"data": {"name": "env"}, "mark": {"type": "line", "color": "#000000", "strokeWidth": 1}, "encoding": {"x": {"field": "x", "type": "quantitative"}, "y": {"field": "y", "type": "quantitative"}}},
{"data": {"name": "spikes"}, "mark": {"type": "rule", "color": "#1a1a1a", "strokeWidth": 1}, "encoding": {"x": {"field": "x", "type": "quantitative"}, "y": {"field": "y", "type": "quantitative"}, "y2": {"datum": 0.45}}},
{"data": {"name": "subEnv"}, "mark": {"type": "area", "opacity": 1}, "encoding": {"x": {"field": "x", "type": "quantitative"}, "y": {"field": "y", "type": "quantitative"}, "y2": {"datum": 0}, "color": {"field": "s", "type": "nominal", "scale": {"domain": ["L","M","T"], "range": ["#2b5cc4","#5fbf48","#ee2424"]}, "legend": null}}},
{"data": {"name": "subSpikes"}, "mark": {"type": "rule", "strokeWidth": 1}, "encoding": {"x": {"field": "x", "type": "quantitative"}, "y": {"field": "y", "type": "quantitative"}, "y2": {"datum": 0}, "color": {"field": "s", "type": "nominal", "legend": null}}},
{"data": {"name": "botText"}, "mark": {"type": "text", "align": "left", "baseline": "alphabetic", "font": "Liberation Sans", "fontSize": 18, "color": "#111111"}, "encoding": {"x": {"field": "x", "type": "quantitative"}, "y": {"field": "y", "type": "quantitative"}, "text": {"field": "t"}}},
{"data": {"name": "botArrows"}, "mark": {"type": "rule", "color": "#111111", "strokeWidth": 1.5}, "encoding": {"x": {"field": "x", "type": "quantitative"}, "y": {"field": "y", "type": "quantitative"}, "x2": {"field": "x2"}, "y2": {"field": "y2"}}},
{"data": {"name": "botArrows"}, "transform": [{"filter": "datum.id == 'E'"}], "mark": {"type": "point", "shape": "M0,0L-0.35,1L0.35,1Z", "filled": true, "size": 196, "angle": 108, "color": "#111111", "opacity": 1, "strokeWidth": 0}, "encoding": {"x": {"field": "x2", "type": "quantitative"}, "y": {"field": "y2", "type": "quantitative"}}},
{"data": {"name": "botArrows"}, "transform": [{"filter": "datum.id == 'L'"}], "mark": {"type": "point", "shape": "M0,0L-0.35,1L0.35,1Z", "filled": true, "size": 196, "angle": 249, "color": "#111111", "opacity": 1, "strokeWidth": 0}, "encoding": {"x": {"field": "x2", "type": "quantitative"}, "y": {"field": "y2", "type": "quantitative"}}},
{"data": {"name": "botArrows"}, "transform": [{"filter": "datum.id == 'M'"}], "mark": {"type": "point", "shape": "M0,0L-0.35,1L0.35,1Z", "filled": true, "size": 196, "angle": 270, "color": "#111111", "opacity": 1, "strokeWidth": 0}, "encoding": {"x": {"field": "x2", "type": "quantitative"}, "y": {"field": "y2", "type": "quantitative"}}},
{"data": {"name": "botArrows"}, "transform": [{"filter": "datum.id == 'T'"}], "mark": {"type": "point", "shape": "M0,0L-0.35,1L0.35,1Z", "filled": true, "size": 196, "angle": 115, "color": "#111111", "opacity": 1, "strokeWidth": 0}, "encoding": {"x": {"field": "x2", "type": "quantitative"}, "y": {"field": "y2", "type": "quantitative"}}}
]
}
]
}
